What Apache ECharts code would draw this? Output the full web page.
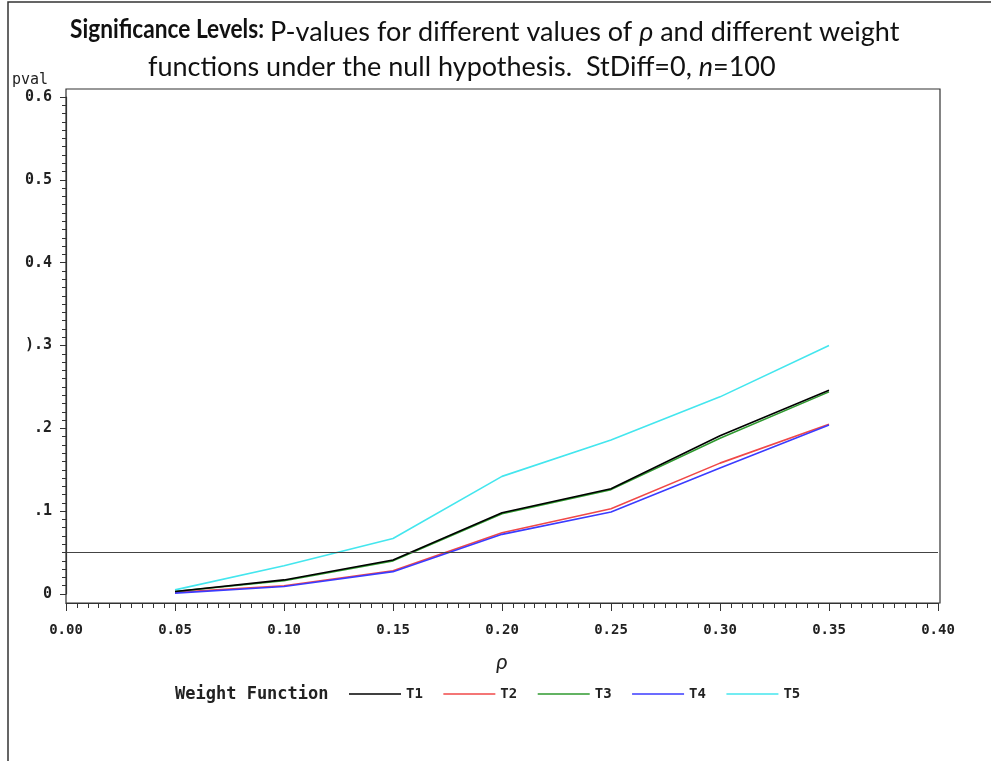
<!DOCTYPE html>
<html>
<head>
<meta charset="utf-8">
<script src="https://cdn.jsdelivr.net/npm/echarts@6/dist/echarts.min.js"></script>
<style>
  html, body { margin: 0; padding: 0; background: #fff; }
  #chart { width: 991px; height: 761px; }
</style>
</head>
<body>
<div id="chart"></div>
<script>
// rho values on the x axis
const rho = [0.05, 0.10, 0.15, 0.20, 0.25, 0.30, 0.35];

// p-values for each weight function
const T1 = [0.003, 0.017, 0.041, 0.098, 0.127, 0.191, 0.246];
const T2 = [0.002, 0.010, 0.028, 0.074, 0.103, 0.158, 0.205];
const T3 = [0.003, 0.016, 0.040, 0.097, 0.126, 0.188, 0.244];
const T4 = [0.001, 0.009, 0.027, 0.072, 0.099, 0.152, 0.204];
const T5 = [0.005, 0.034, 0.067, 0.142, 0.186, 0.238, 0.300];

const seriesNames = ['T1', 'T2', 'T3', 'T4', 'T5'];
const seriesData = [T1, T2, T3, T4, T5];
const seriesColors = ['#000000', '#f04848', '#2f9a2f', '#3b3bff', '#44e6ee'];

// y tick labels as printed
const yTickLabels = ['0', '.1', '.2', ').3', '0.4', '0.5', '0.6'];

// significance reference level
const alphaLevel = 0.05;

const monoFont = '"DejaVu Sans Mono", monospace';
const titleFont = 'Lato, sans-serif';

const chart = echarts.init(document.getElementById('chart'));

const series = seriesNames.map((name, i) => ({
  name: name,
  type: 'line',
  data: rho.map((x, j) => [x, seriesData[i][j]]),
  symbol: 'none',
  lineStyle: { color: seriesColors[i], width: 1.6 },
  itemStyle: { color: seriesColors[i] },
  z: 3 + (i === 0 ? 1 : 0),
  animation: false
}));

series[0].markLine = {
  silent: true,
  symbol: ['none', 'none'],
  label: { show: false },
  lineStyle: { color: '#444', width: 1.2, type: 'solid' },
  data: [{ yAxis: alphaLevel }],
  animation: false
};

const plainRich = {
  r: { fontFamily: titleFont, fontWeight: 'normal', fontSize: 27, color: '#111' },
  i: { fontFamily: titleFont, fontWeight: 'normal', fontStyle: 'italic', fontSize: 27, color: '#111' }
};

chart.setOption({
  backgroundColor: '#fff',
  animation: false,
  title: [
    {
      left: 265, top: 14,
      text: '{r|P-values for different values of }{i|ρ}{r| and different weight}',
      textStyle: { fontWeight: 'normal', rich: plainRich }
    },
    {
      left: 143, top: 49,
      text: '{r|functions under the null hypothesis.  StDiff=0, }{i|n}{r|=100}',
      textStyle: { fontWeight: 'normal', rich: plainRich }
    },
    {
      left: 7, top: 68,
      text: 'pval',
      textStyle: { fontFamily: monoFont, fontSize: 15, fontWeight: 'normal', color: '#222' }
    },
    {
      left: 170, top: 681,
      text: 'Weight Function',
      textStyle: { fontFamily: monoFont, fontSize: 17, fontWeight: 'bold', color: '#222' }
    }
  ],
  legend: {
    left: 344, top: 682,
    data: seriesNames,
    icon: 'rect',
    itemWidth: 52,
    itemHeight: 1.5,
    itemGap: 20.5,
    selectedMode: false,
    textStyle: { fontFamily: monoFont, fontSize: 14, fontWeight: 'bold', color: '#222' }
  },
  grid: { left: 66, right: 53, top: 97, bottom: 167, containLabel: false },
  xAxis: {
    type: 'value',
    min: 0, max: 0.4, interval: 0.05,
    offset: 9,
    name: 'ρ',
    nameLocation: 'middle',
    nameGap: 48,
    nameTextStyle: { fontFamily: titleFont, fontStyle: 'italic', fontSize: 22, color: '#222' },
    axisLine: { show: true, onZero: false, lineStyle: { color: '#333', width: 1.2 } },
    axisTick: { show: true, inside: false, length: 8, lineStyle: { color: '#333' } },
    minorTick: { show: true, splitNumber: 10, length: 5, lineStyle: { color: '#333' } },
    splitLine: { show: false },
    axisLabel: {
      margin: 20,
      fontFamily: monoFont, fontSize: 14, fontWeight: 'bold', color: '#222',
      formatter: v => v.toFixed(2)
    }
  },
  yAxis: {
    type: 'value',
    min: 0, max: 0.6, interval: 0.1,
    axisLine: { show: true, lineStyle: { color: '#333', width: 1.2 } },
    axisTick: { show: true, length: 6, lineStyle: { color: '#333' } },
    minorTick: { show: true, splitNumber: 10, length: 4, lineStyle: { color: '#333' } },
    splitLine: { show: false },
    axisLabel: {
      margin: 14,
      fontFamily: monoFont, fontSize: 15, fontWeight: 'bold', color: '#222',
      formatter: v => yTickLabels[Math.round(v * 10)]
    }
  },
  graphic: [
    // bold lead-in of the title, condensed horizontally
    {
      type: 'text', z: 10, silent: true,
      x: 70, y: 16, scaleX: 0.84,
      style: {
        text: 'Significance Levels:',
        font: 'bold 27px Lato, sans-serif',
        fill: '#111',
        textVerticalAlign: 'top'
      }
    },
    // plot frame
    {
      type: 'rect', z: 10, silent: true,
      shape: { x: 66, y: 89, width: 874, height: 514 },
      style: { fill: 'none', stroke: '#333', lineWidth: 1.2 }
    },
    // page border (top and left edges)
    {
      type: 'polyline', z: 10, silent: true,
      shape: { points: [[8, 761], [8, 2], [991, 2]] },
      style: { fill: 'none', stroke: '#333', lineWidth: 1.5 }
    }
  ],
  series: series
});
</script>
</body>
</html>
